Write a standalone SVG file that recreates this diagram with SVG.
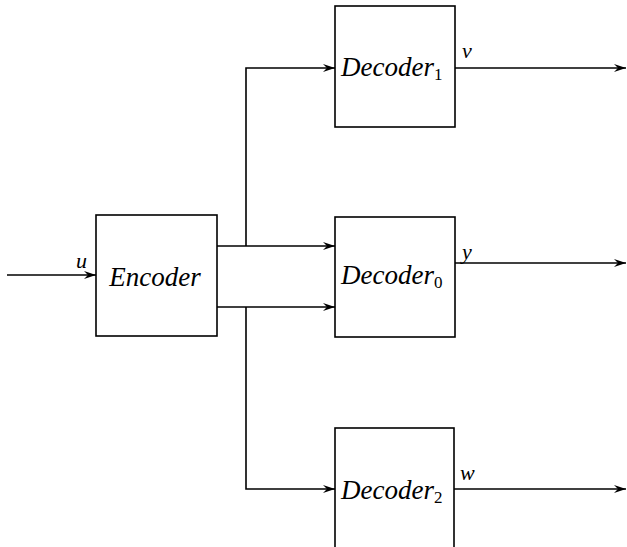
<svg xmlns="http://www.w3.org/2000/svg" width="627" height="547" viewBox="0 0 627 547">
<style>
.box{fill:#fff;stroke:#000;stroke-width:1.6}
.ln{fill:none;stroke:#000;stroke-width:1.6}
text{font-family:'Liberation Serif','DejaVu Serif',serif;font-style:italic;fill:#000}
.t{font-size:27px}
.sub{font-style:normal;font-size:17px}
.lbl{font-size:22px}
</style>
<defs>
<marker id="ah" viewBox="0 0 12 8" refX="12" refY="4" markerWidth="12" markerHeight="8" markerUnits="userSpaceOnUse" orient="auto">
<path d="M0,0 L12,4 L0,8 L4,4 z" fill="#000"/>
</marker>
</defs>
<g id="connectors">
<path class="ln" d="M7,275 H96" marker-end="url(#ah)"/>
<path class="ln" d="M217,246 H335" marker-end="url(#ah)"/>
<path class="ln" d="M217,307 H335" marker-end="url(#ah)"/>
<path class="ln" d="M246,246 V68 H335" marker-end="url(#ah)"/>
<path class="ln" d="M246,307 V489 H335" marker-end="url(#ah)"/>
<path class="ln" d="M455,68 H626" marker-end="url(#ah)"/>
<path class="ln" d="M455,263 H626" marker-end="url(#ah)"/>
<path class="ln" d="M454,489 H626" marker-end="url(#ah)"/>
<text class="lbl" x="76" y="268">u</text>
<text class="lbl" x="462" y="58">v</text>
<text class="lbl" x="462" y="259">y</text>
<text class="lbl" x="460" y="480">w</text>
</g>
<g id="encoder">
<rect class="box" x="96" y="215" width="121" height="121"/>
<text class="t" x="155" y="286" text-anchor="middle">Encoder</text>
</g>
<g id="decoder1">
<rect class="box" x="335" y="6" width="120" height="121"/>
<text class="t" x="341" y="76">Decoder<tspan class="sub" dy="4">1</tspan></text>
</g>
<g id="decoder0">
<rect class="box" x="335" y="217" width="120" height="120"/>
<text class="t" x="341" y="284">Decoder<tspan class="sub" dy="4">0</tspan></text>
</g>
<g id="decoder2">
<rect class="box" x="335" y="428" width="119" height="130"/>
<text class="t" x="341" y="499">Decoder<tspan class="sub" dy="4">2</tspan></text>
</g>
</svg>
